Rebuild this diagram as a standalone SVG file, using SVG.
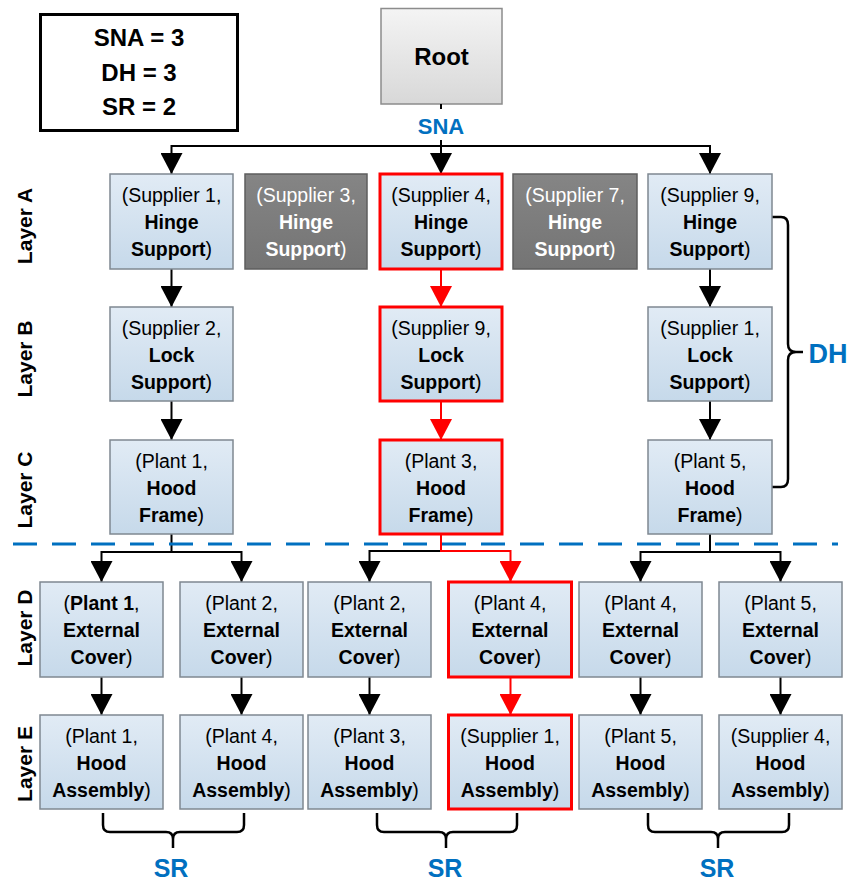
<svg xmlns="http://www.w3.org/2000/svg" width="861" height="885" viewBox="0 0 861 885">
<style>
text{font-family:"Liberation Sans",Arial,sans-serif;}
.t{font-size:19.5px;text-anchor:middle;fill:#000;}
.w{fill:#fff;}
.b{font-weight:bold;}
.n{font-weight:normal;}
.lb{stroke:#7f8891;stroke-width:1.5;fill:url(#gl);}
.dk{stroke:#5e5e5e;stroke-width:1.5;fill:url(#gd);}
.rd{stroke:#ff0000;stroke-width:3;fill:url(#gl);}
.ln{fill:none;stroke:#000;stroke-width:2;}
.lr{fill:none;stroke:#ff0000;stroke-width:2;}
.br{fill:none;stroke:#000;stroke-width:2.5;}
.blue{fill:#0070c0;font-weight:bold;text-anchor:middle;}
.lay{font-size:21px;font-weight:bold;text-anchor:middle;}
</style>
<defs>
<linearGradient id="gl" x1="0" y1="0" x2="0" y2="1"><stop offset="0" stop-color="#e1ebf5"/><stop offset="1" stop-color="#c6d9ea"/></linearGradient>
<linearGradient id="gd" x1="0" y1="0" x2="0" y2="1"><stop offset="0" stop-color="#858585"/><stop offset="1" stop-color="#747474"/></linearGradient>
<linearGradient id="gr" x1="0" y1="0" x2="0" y2="1"><stop offset="0" stop-color="#f4f4f4"/><stop offset="1" stop-color="#d8d8d8"/></linearGradient>
<marker id="ab" markerUnits="userSpaceOnUse" markerWidth="22" markerHeight="22" refX="21" refY="11" orient="auto"><path d="M0,0 L21,11 L0,22 z" fill="#000"/></marker>
<marker id="ar" markerUnits="userSpaceOnUse" markerWidth="22" markerHeight="22" refX="21" refY="11" orient="auto"><path d="M0,0 L21,11 L0,22 z" fill="#ff0000"/></marker>
</defs>
<rect width="861" height="885" fill="#fff"/>

<g id="legend">
<rect x="40.5" y="14.5" width="197" height="116" fill="#fff" stroke="#000" stroke-width="3"/>
<text x="139" y="46" font-size="24" font-weight="bold" text-anchor="middle">SNA = 3</text>
<text x="139" y="81" font-size="24" font-weight="bold" text-anchor="middle">DH = 3</text>
<text x="139" y="115" font-size="24" font-weight="bold" text-anchor="middle">SR = 2</text>
</g>

<g id="root">
<rect x="381" y="8.5" width="121" height="95.5" fill="url(#gr)" stroke="#8c8c8c" stroke-width="1.5"/>
<text x="441.5" y="65" font-size="24" font-weight="bold" text-anchor="middle">Root</text>
</g>

<g id="layer-labels">
<text class="lay" transform="translate(32,226) rotate(-90)">Layer A</text>
<text class="lay" transform="translate(32,359) rotate(-90)">Layer B</text>
<text class="lay" transform="translate(32,490) rotate(-90)">Layer C</text>
<text class="lay" transform="translate(32,628) rotate(-90)">Layer D</text>
<text class="lay" transform="translate(32,764) rotate(-90)">Layer E</text>
</g>

<g id="connectors">
<path class="ln" d="M441,104 V109"/>
<path class="ln" d="M171.5,146 H710"/>
<path class="ln" d="M171.5,145 V174" marker-end="url(#ab)"/>
<path class="ln" d="M441,140 V174" marker-end="url(#ab)"/>
<path class="ln" d="M710,145 V174" marker-end="url(#ab)"/>
<path class="ln" d="M171.5,269 V307" marker-end="url(#ab)"/>
<path class="ln" d="M710,269 V307" marker-end="url(#ab)"/>
<path class="lr" d="M441,269 V307" marker-end="url(#ar)"/>
<path class="ln" d="M171.5,401 V440" marker-end="url(#ab)"/>
<path class="ln" d="M710,401 V440" marker-end="url(#ab)"/>
<path class="lr" d="M441,401 V440" marker-end="url(#ar)"/>
<path class="ln" d="M171.5,534 V552"/>
<path class="ln" d="M101.5,552 H241.5"/>
<path class="ln" d="M101.5,551 V582" marker-end="url(#ab)"/>
<path class="ln" d="M241.5,551 V582" marker-end="url(#ab)"/>
<path class="ln" d="M441,551 H369.5 V582" marker-end="url(#ab)"/>
<path class="lr" d="M441,534 V551 H510.5 V582" marker-end="url(#ar)"/>
<path class="ln" d="M710,534 V552"/>
<path class="ln" d="M640.5,552 H780.5"/>
<path class="ln" d="M640.5,551 V582" marker-end="url(#ab)"/>
<path class="ln" d="M780.5,551 V582" marker-end="url(#ab)"/>
<path class="ln" d="M101.5,677 V715" marker-end="url(#ab)"/>
<path class="ln" d="M241.5,677 V715" marker-end="url(#ab)"/>
<path class="ln" d="M369.5,677 V715" marker-end="url(#ab)"/>
<path class="lr" d="M510.5,677 V715" marker-end="url(#ar)"/>
<path class="ln" d="M640.5,677 V715" marker-end="url(#ab)"/>
<path class="ln" d="M780.5,677 V715" marker-end="url(#ab)"/>
</g>

<text class="blue" x="441" y="134" font-size="22">SNA</text>

<path d="M13,544 H838" fill="none" stroke="#0070c0" stroke-width="3" stroke-dasharray="24 15"/>

<g id="dh">
<path class="br" d="M772,217 H781 Q788,217 788,225 V344 Q788,352 796,352 H803 M796,352 Q788,352 788,360 V479 Q788,487 781,487 H772"/>
<text class="blue" x="828" y="363" font-size="27">DH</text>
</g>

<g id="sr">
<path class="br" d="M103,813 V825 Q103,832 110,832 H166 Q173,832 173,839 V848 M173,839 Q173,832 180,832 H237 Q244,832 244,825 V813"/>
<path class="br" d="M377,813 V825 Q377,832 384,832 H439 Q446,832 446,839 V848 M446,839 Q446,832 453,832 H510 Q517,832 517,825 V813"/>
<path class="br" d="M648,813 V825 Q648,832 655,832 H711 Q718,832 718,839 V848 M718,839 Q718,832 725,832 H782 Q789,832 789,825 V813"/>
<text class="blue" x="171" y="877" font-size="25">SR</text>
<text class="blue" x="445" y="877" font-size="25">SR</text>
<text class="blue" x="717" y="877" font-size="25">SR</text>
</g>

<!-- Layer A -->
<g id="a1"><rect class="lb" x="110" y="174" width="123" height="95"/>
<text class="t" x="171.5" y="202">(Supplier 1,</text><text class="t b" x="171.5" y="229">Hinge</text><text class="t" x="171.5" y="256"><tspan class="b">Support</tspan>)</text></g>
<g id="a2"><rect class="dk" x="245" y="174" width="122" height="95"/>
<text class="t w" x="306" y="202">(Supplier 3,</text><text class="t w b" x="306" y="229">Hinge</text><text class="t w" x="306" y="256"><tspan class="b">Support</tspan>)</text></g>
<g id="a3"><rect class="rd" x="380" y="174" width="122" height="95"/>
<text class="t" x="441" y="202">(Supplier 4,</text><text class="t b" x="441" y="229">Hinge</text><text class="t" x="441" y="256"><tspan class="b">Support</tspan>)</text></g>
<g id="a4"><rect class="dk" x="513" y="174" width="124" height="95"/>
<text class="t w" x="575" y="202">(Supplier 7,</text><text class="t w b" x="575" y="229">Hinge</text><text class="t w" x="575" y="256"><tspan class="b">Support</tspan>)</text></g>
<g id="a5"><rect class="lb" x="648" y="174" width="124" height="95"/>
<text class="t" x="710" y="202">(Supplier 9,</text><text class="t b" x="710" y="229">Hinge</text><text class="t" x="710" y="256"><tspan class="b">Support</tspan>)</text></g>

<!-- Layer B -->
<g id="b1"><rect class="lb" x="110" y="307" width="123" height="94"/>
<text class="t" x="171.5" y="335">(Supplier 2,</text><text class="t b" x="171.5" y="362">Lock</text><text class="t" x="171.5" y="389"><tspan class="b">Support</tspan>)</text></g>
<g id="b3"><rect class="rd" x="380" y="307" width="122" height="94"/>
<text class="t" x="441" y="335">(Supplier 9,</text><text class="t b" x="441" y="362">Lock</text><text class="t" x="441" y="389"><tspan class="b">Support</tspan>)</text></g>
<g id="b5"><rect class="lb" x="648" y="307" width="124" height="94"/>
<text class="t" x="710" y="335">(Supplier 1,</text><text class="t b" x="710" y="362">Lock</text><text class="t" x="710" y="389"><tspan class="b">Support</tspan>)</text></g>

<!-- Layer C -->
<g id="c1"><rect class="lb" x="110" y="440" width="123" height="94"/>
<text class="t" x="171.5" y="468">(Plant 1,</text><text class="t b" x="171.5" y="495">Hood</text><text class="t" x="171.5" y="522"><tspan class="b">Frame</tspan>)</text></g>
<g id="c3"><rect class="rd" x="380" y="440" width="122" height="94"/>
<text class="t" x="441" y="468">(Plant 3,</text><text class="t b" x="441" y="495">Hood</text><text class="t" x="441" y="522"><tspan class="b">Frame</tspan>)</text></g>
<g id="c5"><rect class="lb" x="648" y="440" width="124" height="94"/>
<text class="t" x="710" y="468">(Plant 5,</text><text class="t b" x="710" y="495">Hood</text><text class="t" x="710" y="522"><tspan class="b">Frame</tspan>)</text></g>

<!-- Layer D -->
<g id="d1"><rect class="lb" x="40" y="582" width="123" height="95"/>
<text class="t" x="101.5" y="610">(<tspan class="b">Plant 1</tspan>,</text><text class="t b" x="101.5" y="637">External</text><text class="t" x="101.5" y="664"><tspan class="b">Cover</tspan>)</text></g>
<g id="d2"><rect class="lb" x="180" y="582" width="123" height="95"/>
<text class="t" x="241.5" y="610">(Plant 2,</text><text class="t b" x="241.5" y="637">External</text><text class="t" x="241.5" y="664"><tspan class="b">Cover</tspan>)</text></g>
<g id="d3"><rect class="lb" x="308" y="582" width="123" height="95"/>
<text class="t" x="369.5" y="610">(Plant 2,</text><text class="t b" x="369.5" y="637">External</text><text class="t" x="369.5" y="664"><tspan class="b">Cover</tspan>)</text></g>
<g id="d4"><rect class="rd" x="448.5" y="582" width="123" height="95"/>
<text class="t" x="510" y="610">(Plant 4,</text><text class="t b" x="510" y="637">External</text><text class="t" x="510" y="664"><tspan class="b">Cover</tspan>)</text></g>
<g id="d5"><rect class="lb" x="579" y="582" width="123" height="95"/>
<text class="t" x="640.5" y="610">(Plant 4,</text><text class="t b" x="640.5" y="637">External</text><text class="t" x="640.5" y="664"><tspan class="b">Cover</tspan>)</text></g>
<g id="d6"><rect class="lb" x="719" y="582" width="123" height="95"/>
<text class="t" x="780.5" y="610">(Plant 5,</text><text class="t b" x="780.5" y="637">External</text><text class="t" x="780.5" y="664"><tspan class="b">Cover</tspan>)</text></g>

<!-- Layer E -->
<g id="e1"><rect class="lb" x="40" y="715" width="123" height="94"/>
<text class="t" x="101.5" y="743">(Plant 1,</text><text class="t b" x="101.5" y="770">Hood</text><text class="t" x="101.5" y="797"><tspan class="b">Assembly</tspan>)</text></g>
<g id="e2"><rect class="lb" x="180" y="715" width="123" height="94"/>
<text class="t" x="241.5" y="743">(Plant 4,</text><text class="t b" x="241.5" y="770">Hood</text><text class="t" x="241.5" y="797"><tspan class="b">Assembly</tspan>)</text></g>
<g id="e3"><rect class="lb" x="308" y="715" width="123" height="94"/>
<text class="t" x="369.5" y="743">(Plant 3,</text><text class="t b" x="369.5" y="770">Hood</text><text class="t" x="369.5" y="797"><tspan class="b">Assembly</tspan>)</text></g>
<g id="e4"><rect class="rd" x="448.5" y="715" width="123" height="94"/>
<text class="t" x="510" y="743">(Supplier 1,</text><text class="t b" x="510" y="770">Hood</text><text class="t" x="510" y="797"><tspan class="b">Assembly</tspan>)</text></g>
<g id="e5"><rect class="lb" x="579" y="715" width="123" height="94"/>
<text class="t" x="640.5" y="743">(Plant 5,</text><text class="t b" x="640.5" y="770">Hood</text><text class="t" x="640.5" y="797"><tspan class="b">Assembly</tspan>)</text></g>
<g id="e6"><rect class="lb" x="719" y="715" width="123" height="94"/>
<text class="t" x="780.5" y="743">(Supplier 4,</text><text class="t b" x="780.5" y="770">Hood</text><text class="t" x="780.5" y="797"><tspan class="b">Assembly</tspan>)</text></g>
</svg>
